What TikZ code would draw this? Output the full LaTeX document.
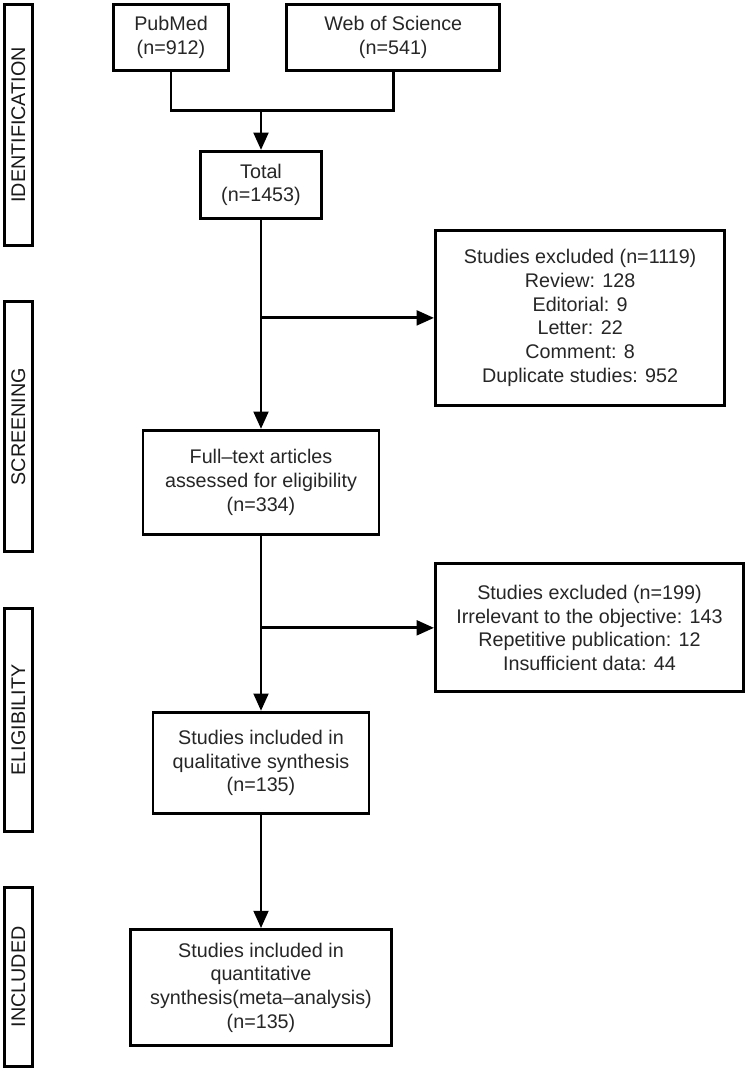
\documentclass[tikz,border=0pt]{standalone}
\usepackage{fontspec}
\setmainfont{Liberation Sans}
\usepackage{graphicx}
\usetikzlibrary{positioning, arrows.meta}

\begin{document}
\begin{tikzpicture}[
		font=\fontsize{14.8pt}{17.8pt}\selectfont,
		>={Triangle[length=13pt, width=11pt]},
		line width=2.2pt,
		flow node/.style={draw, line width=2.2pt, align=center, text=black!85, inner sep=2pt},
		stage node/.style={draw, line width=2.2pt, minimum width=21pt, inner sep=0pt, text=black!90},
		link/.style={line width=2.2pt}
		]
		
		\path[use as bounding box, fill=white] (0,0) rectangle (561pt,-804.75pt);
		
		% ==========================================
		% 1. IDENTIFICATION
		% ==========================================
		
		\node[flow node, minimum width=86.5pt, minimum height=49.5pt] (pubmed) at (128.25pt,-28.125pt) {PubMed\\(n=912)};
		\node[flow node, minimum width=160pt, minimum height=49.5pt, right=41.25pt of pubmed] (wos) {Web of Science\\(n=541)};
		\node[flow node, minimum width=91pt, minimum height=50.25pt, below=58.5pt of pubmed, xshift=67.5pt] (total) {Total\\(n=1453)};
		\coordinate[above=29.25pt of total] (merge);
		
		\draw[link] (pubmed.south) |- (merge) -| (wos.south);
		\draw[link, ->] (merge) -- (total);
		
		% ==========================================
		% 2. SCREENING
		% ==========================================
		
		\node[flow node, minimum width=177pt, minimum height=78pt, below=156.75pt of total] (fulltext) {Full--text articles\\assessed for eligibility\\(n=334)};
		\coordinate[below=73.5pt of total] (b1);
		\node[flow node, minimum width=217pt, minimum height=131.25pt, right=129.75pt of b1] (excl1) {Studies excluded (n=1119)\\Review: 128\\Editorial: 9\\Letter: 22\\Comment: 8\\Duplicate studies: 952};
		
		\draw[link, ->] (total) -- (fulltext);
		\draw[link, ->] (b1) -- (excl1);
		
		% ==========================================
		% 3. ELIGIBILITY
		% ==========================================
		
		\node[flow node, minimum width=162pt, minimum height=76pt, below=131.25pt of fulltext] (qual) {Studies included in\\qualitative synthesis\\(n=135)};
		\coordinate[below=69pt of fulltext] (b2);
		\node[flow node, minimum width=231pt, minimum height=96pt, right=129.75pt of b2] (excl2) {Studies excluded (n=199)\\Irrelevant to the objective: 143\\Repetitive publication: 12\\Insufficient data: 44};
		
		\draw[link, ->] (fulltext) -- (qual);
		\draw[link, ->] (b2) -- (excl2);
		
		% ==========================================
		% 4. INCLUDED
		% ==========================================
		
		\node[flow node, minimum width=196pt, minimum height=87pt, below=84.75pt of qual] (quant) {Studies included in\\quantitative\\synthesis(meta--analysis)\\(n=135)};
		
		\draw[link, ->] (qual) -- (quant);
		
		% Stage labels on the left
		\node[stage node, minimum height=181pt, left=58.5pt of pubmed, yshift=-65.625pt] (ident) {\rotatebox{90}{IDENTIFICATION}};
		\node[stage node, minimum height=187.5pt, below=39.75pt of ident] (screen) {\rotatebox{90}{SCREENING}};
		\node[stage node, minimum height=167.25pt, below=40.5pt of screen] (elig) {\rotatebox{90}{ELIGIBILITY}};
		\node[stage node, minimum height=134.25pt, below=39.75pt of elig] (incl) {\rotatebox{90}{INCLUDED}};
		
	\end{tikzpicture}
\end{document}
